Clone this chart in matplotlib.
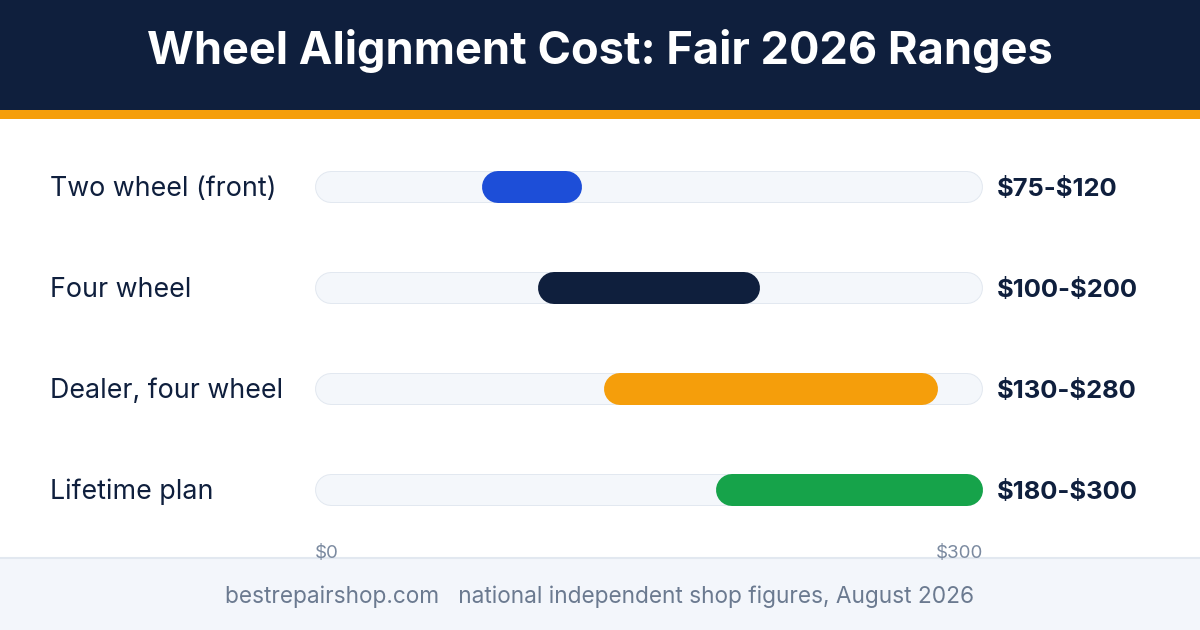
import matplotlib
matplotlib.use("Agg")
import matplotlib.pyplot as plt
from matplotlib.patches import Rectangle

plt.rcParams['font.family'] = ['Inter', 'DejaVu Sans']
plt.rcParams['text.parse_math'] = False

# Data
categories = ["Two wheel (front)", "Four wheel", "Dealer, four wheel", "Lifetime plan"]
low = [75, 100, 130, 180]
high = [120, 200, 280, 300]
range_labels = ["$75-$120", "$100-$200", "$130-$280", "$180-$300"]
bar_colors = ["#1d4ed8", "#0f1f3d", "#f59e0b", "#16a34a"]
axis_min, axis_max = 0, 300
title = "Wheel Alignment Cost: Fair 2026 Ranges"
footer = "bestrepairshop.com   national independent shop figures, August 2026"

W, H, DPI = 1200, 630, 100
fig = plt.figure(figsize=(W / DPI, H / DPI), dpi=DPI)

# background canvas in pixel coordinates
bg = fig.add_axes([0, 0, 1, 1])
bg.set_xlim(0, W)
bg.set_ylim(H, 0)
bg.axis('off')
bg.add_patch(Rectangle((0, 0), W, 110, color="#0f1f3d", lw=0))
bg.add_patch(Rectangle((0, 110), W, 9, color="#f59e0b", lw=0))
bg.add_patch(Rectangle((0, 558), W, 72, color="#f3f6fb", lw=0))
bg.plot([0, W], [558, 558], color="#e2e8f0", lw=1.5)
bg.text(600, 51, title, color="white", fontsize=32.5, fontweight='bold',
        ha='center', va='center')
bg.text(600, 597, footer, color="#6b7a90", fontsize=16.3, ha='center', va='center')

# bar axes: x 0..300 maps to pixels 315..983, rows centered at 187..490
x0, x1 = 315, 983
row_top, row_step = 187, 101
n = len(categories)
ax_top = row_top - row_step / 2
ax_bot = row_top + row_step * (n - 0.5)
ax = fig.add_axes([x0 / W, 1 - ax_bot / H, (x1 - x0) / W, (ax_bot - ax_top) / H])
ax.set_xlim(axis_min, axis_max)
ax.set_ylim(n - 0.5, -0.5)
ax.axis('off')

px_per_unit = (x1 - x0) / (axis_max - axis_min)
bar_px = 32
r = bar_px / 2 / px_per_unit
lw_pt = bar_px * 72 / DPI

for i, cat in enumerate(categories):
    # track
    ax.plot([axis_min + r, axis_max - r], [i, i], color="#e2e8f0", lw=lw_pt,
            solid_capstyle='round', zorder=1)
    ax.plot([axis_min + r, axis_max - r], [i, i], color="#f4f7fb",
            lw=lw_pt - 2 * 72 / DPI, solid_capstyle='round', zorder=2)
    # range pill
    ax.plot([low[i] + r, high[i] - r], [i, i], color=bar_colors[i], lw=lw_pt,
            solid_capstyle='round', zorder=3)
    ax.text(-265 / px_per_unit, i + 0.02, cat, color="#0f1f3d", fontsize=19.3,
            ha='left', va='center', clip_on=False)
    ax.text(axis_max + 14 / px_per_unit, i + 0.02, range_labels[i], color="#0f1f3d",
            fontsize=18.4, fontweight='bold', ha='left', va='center', clip_on=False)

ax.text(axis_min, n - 0.5 + 0.13, f"${axis_min}", color="#7b8aa0", fontsize=13.5,
        ha='left', va='center', clip_on=False)
ax.text(axis_max, n - 0.5 + 0.13, f"${axis_max}", color="#7b8aa0", fontsize=13.5,
        ha='right', va='center', clip_on=False)

fig.savefig("out.png", dpi=DPI)
